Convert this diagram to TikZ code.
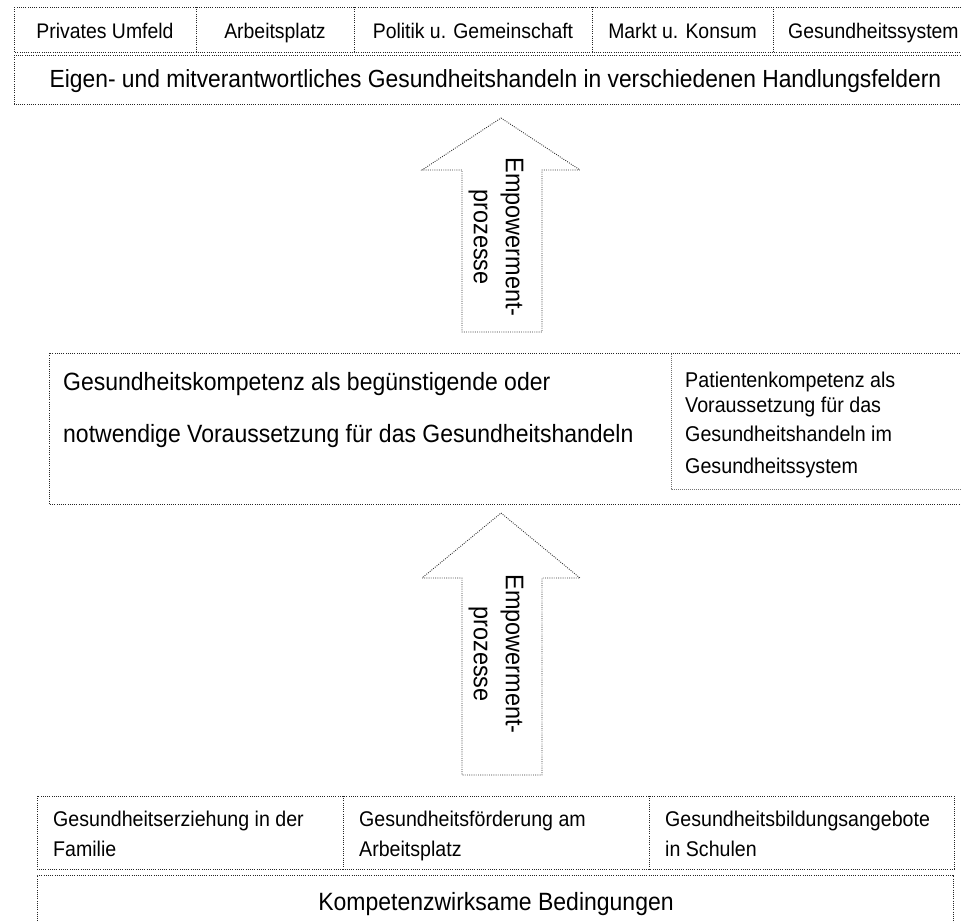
\documentclass[tikz,border=0pt]{standalone}
\usepackage{fontspec}
\setmainfont{Liberation Sans}[FakeStretch=0.92]
\begin{document}
\begin{tikzpicture}[x=1pt,y=-1pt,
  dotline/.style={draw=black!85, line width=0.9pt, dash pattern=on 0.9pt off 1.3pt},
  liteline/.style={draw=black!55, line width=0.7pt, dash pattern=on 0.8pt off 1.2pt},
  arrowshape/.style={draw=black!80, line width=0.9pt, dash pattern=on 0.9pt off 1.3pt, fill=white},
  lbl/.style={inner sep=0pt, text=black, anchor=base},
  lblw/.style={inner sep=0pt, text=black, anchor=base west},
]
\useasboundingbox (0,0) rectangle (961,922);
\clip (0,0) rectangle (961,922);

% ---------- top rows ----------
\draw[dotline] (14,7) rectangle (975,52);
\foreach \xx in {196,354,592,773} \draw[dotline] (\xx,7) -- (\xx,52);
\draw[dotline] (14,55) rectangle (975,104);

\begin{scope}[every node/.append style={font=\fontsize{21.1}{25}\selectfont}]
\node[lbl] (f1) at (105,38) {Privates Umfeld};
\node[lbl] (f2) at (275,38) {Arbeitsplatz};
\node[lbl] (f3) at (473,38) {Politik u. Gemeinschaft};
\node[lbl] (f4) at (682.5,38) {Markt u. Konsum};
\node[lblw] (f5) at (788,38) {Gesundheitssystem};
\end{scope}
\node[lbl, font=\fontsize{24.8}{30}\selectfont] (handeln) at (495.5,87.5)
  {Eigen- und mitverantwortliches Gesundheitshandeln in verschiedenen Handlungsfeldern};

% ---------- arrow 1 ----------
\draw[arrowshape] (501,118) -- (580,170) -- (542,170) -- (542,332) -- (462,332)
  -- (462,170) -- (422,170) -- cycle;
\node[inner sep=0pt, rotate=-90, align=center, font=\fontsize{25.5}{32}\selectfont] (emp1) at (496,237)
  {Empowerment-\\prozesse};

% ---------- middle box ----------
\draw[dotline] (975,353) -- (49,353) -- (49,504) -- (975,504);
\draw[liteline] (975,489) -- (671,489) -- (671,353);
\begin{scope}[every node/.append style={font=\fontsize{25}{30}\selectfont}]
\node[lblw] (gk1) at (63,390) {Gesundheitskompetenz als begünstigende oder};
\node[lblw] (gk2) at (63,442) {notwendige Voraussetzung für das Gesundheitshandeln};
\end{scope}
\begin{scope}[every node/.append style={font=\fontsize{21.4}{26}\selectfont}]
\node[lblw] (pk1) at (685,387) {Patientenkompetenz als};
\node[lblw] (pk2) at (685,412) {Voraussetzung für das};
\node[lblw] (pk3) at (685,441) {Gesundheitshandeln im};
\node[lblw] (pk4) at (685,473) {Gesundheitssystem};
\end{scope}

% ---------- arrow 2 ----------
\draw[arrowshape] (501,513) -- (580,578) -- (542,578) -- (542,775) -- (462,775)
  -- (462,578) -- (422,578) -- cycle;
\node[inner sep=0pt, rotate=-90, align=center, font=\fontsize{25.5}{32}\selectfont] (emp2) at (496,654)
  {Empowerment-\\prozesse};

% ---------- bottom ----------
\draw[dotline] (37,796) rectangle (954,869);
\foreach \xx in {343,649} \draw[dotline] (\xx,796) -- (\xx,869);
\draw[dotline] (37,930) -- (37,875) -- (953,875) -- (953,930);

\begin{scope}[every node/.append style={font=\fontsize{21.3}{26}\selectfont}]
\node[lblw] (b1a) at (53,826) {Gesundheitserziehung in der};
\node[lblw] (b1b) at (53,856) {Familie};
\node[lblw] (b2a) at (359,826) {Gesundheitsförderung am};
\node[lblw] (b2b) at (359,856) {Arbeitsplatz};
\node[lblw] (b3a) at (665,826) {Gesundheitsbildungsangebote};
\node[lblw] (b3b) at (665,856) {in Schulen};
\end{scope}
\node[lbl, font=\fontsize{25}{30}\selectfont] (kwb) at (496,910) {Kompetenzwirksame Bedingungen};
\end{tikzpicture}
\end{document}
